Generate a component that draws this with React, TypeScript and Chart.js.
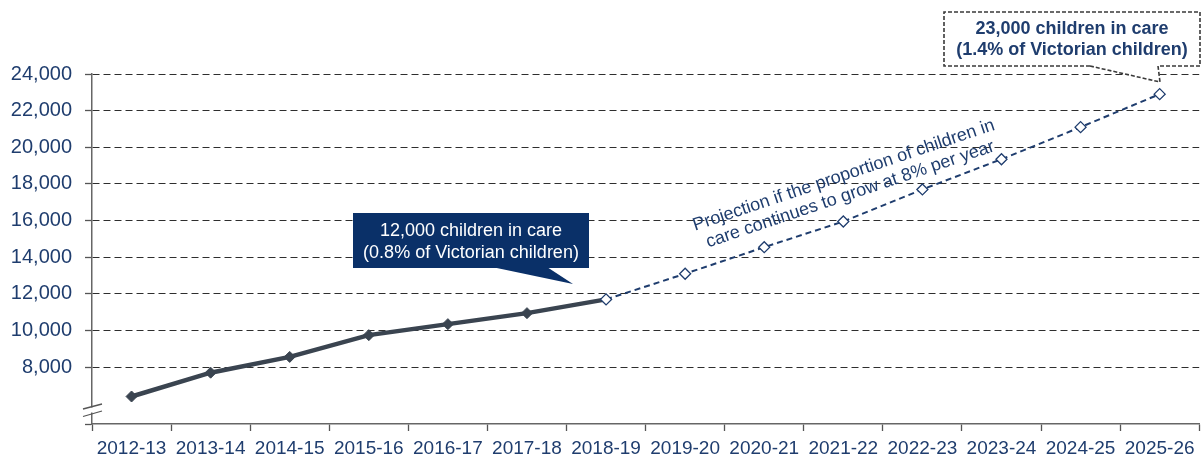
import React, { useEffect, useRef } from 'react';
import { Chart, registerables } from 'chart.js';

Chart.register(...registerables);

const categories = [
  '2012-13', '2013-14', '2014-15', '2015-16', '2016-17', '2017-18', '2018-19',
  '2019-20', '2020-21', '2021-22', '2022-23', '2023-24', '2024-25', '2025-26',
];
const actualValues = [6400, 7700, 8560, 9750, 10350, 10950, 11700, null, null, null, null, null, null, null];
const projectionValues = [null, null, null, null, null, null, 11700, 13100, 14550, 15950, 17700, 19350, 21100, 22900];
const yTickValues = [4900, 8000, 10000, 12000, 14000, 16000, 18000, 20000, 22000, 24000];
const yMin = 4900;
const yMax = 24000;
const callout1Lines = ['12,000 children in care', '(0.8% of Victorian children)'];
const callout2Lines = ['23,000 children in care', '(1.4% of Victorian children)'];
const projectionLines = ['Projection if the proportion of children in', 'care continues to grow at 8% per year'];

const FONT = '"Liberation Sans", Arial, sans-serif';
const BLUE = '#1f3d6e';
const NAVY = '#0a3068';
const SLATE = '#3a4450';

const decorations = {
  id: 'decorations',
  afterDraw(chart: any) {
    const ctx = chart.ctx as CanvasRenderingContext2D;
    const area = chart.chartArea;
    ctx.save();

    // axis break
    const ax = area.left;
    ctx.fillStyle = '#ffffff';
    ctx.fillRect(ax - 2, 407.5, 4, 5);
    ctx.strokeStyle = '#555';
    ctx.lineWidth = 1.3;
    ctx.beginPath();
    ctx.moveTo(83, 409);
    ctx.lineTo(102, 404);
    ctx.moveTo(83, 416.5);
    ctx.lineTo(102, 411);
    ctx.stroke();

    // callout 1 (navy filled)
    ctx.fillStyle = NAVY;
    ctx.fillRect(353, 213, 236, 55);
    ctx.beginPath();
    ctx.moveTo(492, 267);
    ctx.lineTo(547, 267);
    ctx.lineTo(573, 284);
    ctx.closePath();
    ctx.fill();
    ctx.fillStyle = '#ffffff';
    ctx.font = `18px ${FONT}`;
    ctx.textAlign = 'center';
    ctx.textBaseline = 'middle';
    ctx.fillText(callout1Lines[0], 471, 231);
    ctx.fillText(callout1Lines[1], 471, 253);

    // callout 2 (dashed border)
    ctx.fillStyle = '#ffffff';
    ctx.fillRect(944, 12, 256, 54);
    ctx.beginPath();
    ctx.moveTo(1090, 66);
    ctx.lineTo(1160, 82);
    ctx.lineTo(1158, 66);
    ctx.closePath();
    ctx.fill();
    ctx.strokeStyle = '#3a3a3a';
    ctx.lineWidth = 1.6;
    ctx.setLineDash([4, 2]);
    ctx.beginPath();
    ctx.moveTo(1090, 66);
    ctx.lineTo(944, 66);
    ctx.lineTo(944, 12);
    ctx.lineTo(1200, 12);
    ctx.lineTo(1200, 66);
    ctx.lineTo(1158, 66);
    ctx.lineTo(1160, 82);
    ctx.lineTo(1090, 66);
    ctx.stroke();
    ctx.setLineDash([]);
    ctx.fillStyle = BLUE;
    ctx.font = `bold 18px ${FONT}`;
    ctx.fillText(callout2Lines[0], 1072, 29);
    ctx.fillText(callout2Lines[1], 1072, 50);

    // rotated projection label
    ctx.translate(847, 185);
    ctx.rotate(-0.325);
    ctx.font = `18px ${FONT}`;
    ctx.fillStyle = BLUE;
    ctx.fillText(projectionLines[0], 0, -10);
    ctx.fillText(projectionLines[1], 0, 10);

    ctx.restore();
  },
};

export default function App() {
  const canvasRef = useRef<HTMLCanvasElement | null>(null);

  useEffect(() => {
    document.body.style.margin = '0';
    const canvas = canvasRef.current;
    if (!canvas) return;
    const chart = new Chart(canvas, {
      type: 'line',
      data: {
        labels: categories,
        datasets: [
          {
            label: 'Projection',
            data: projectionValues,
            borderColor: BLUE,
            borderWidth: 2,
            borderDash: [6, 4],
            pointStyle: 'rectRot',
            pointRadius: 5.5,
            pointBackgroundColor: '#ffffff',
            pointBorderColor: BLUE,
            pointBorderWidth: 1.3,
            tension: 0,
            order: 0,
          },
          {
            label: 'Children in care',
            data: actualValues,
            borderColor: SLATE,
            borderWidth: 4.5,
            pointStyle: 'rectRot',
            pointRadius: 5.5,
            pointBackgroundColor: SLATE,
            pointBorderColor: SLATE,
            pointBorderWidth: 1,
            tension: 0,
            order: 1,
          },
        ],
      },
      options: {
        responsive: false,
        animation: false,
        devicePixelRatio: 1,
        layout: { padding: { top: 74, left: 0, right: 0, bottom: 0 } },
        plugins: { legend: { display: false }, tooltip: { enabled: false } },
        scales: {
          x: {
            type: 'category',
            offset: true,
            grid: {
              offset: true,
              drawOnChartArea: false,
              drawTicks: true,
              tickLength: 7,
              tickColor: '#555',
              tickWidth: 1.3,
            },
            border: { display: true, color: '#666', width: 1.5 },
            ticks: {
              color: BLUE,
              font: { family: FONT, size: 19 },
              padding: 6,
              maxRotation: 0,
              autoSkip: false,
            },
            afterFit: (scale: any) => { scale.height = 36; },
          },
          y: {
            min: yMin,
            max: yMax,
            afterBuildTicks: (scale: any) => {
              scale.ticks = yTickValues.map((v) => ({ value: v }));
            },
            grid: {
              color: (c: any) => (c.tick && c.tick.value < 8000 ? 'rgba(0,0,0,0)' : '#2e2e2e'),
              lineWidth: 1,
              drawTicks: true,
              tickLength: 7,
              tickColor: '#555',
              tickWidth: 1.3,
            },
            border: { display: true, color: '#666', width: 1.5, dash: [7, 4] },
            ticks: {
              color: BLUE,
              font: { family: FONT, size: 20 },
              padding: 13,
              callback: (v: any) => (Number(v) < 8000 ? '' : Number(v).toLocaleString('en-US')),
            },
            afterFit: (scale: any) => { scale.width = 92; },
          },
        },
      },
      plugins: [decorations],
    });
    return () => chart.destroy();
  }, []);

  return (
    <div style={{ width: 1203, height: 460, overflow: 'hidden' }}>
      <canvas ref={canvasRef} width={1206} height={460} style={{ display: 'block' }} />
    </div>
  );
}
